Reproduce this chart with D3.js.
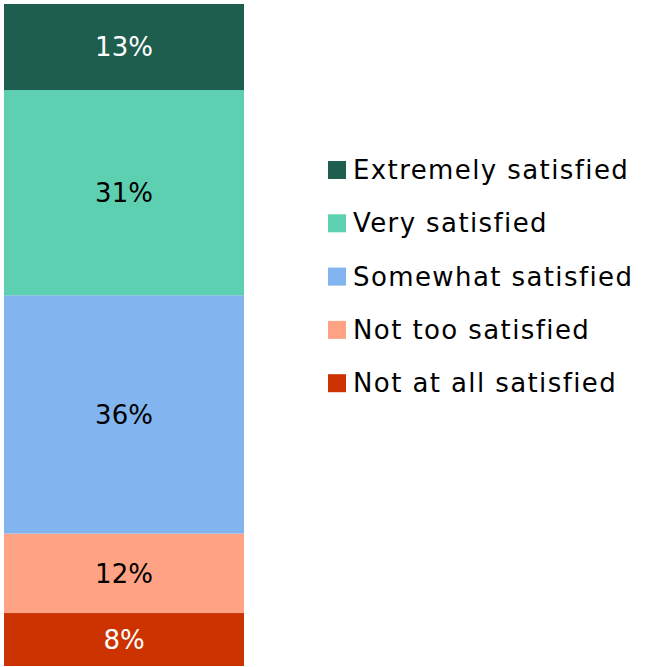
<!DOCTYPE html>
<html>
<head>
<meta charset="utf-8">
<script src="https://cdn.jsdelivr.net/npm/d3@7"></script>
<style>
  html, body { margin: 0; padding: 0; background: #ffffff; }
  svg { display: block; }
  text { font-family: "Century Gothic", "DejaVu Sans", sans-serif; }
</style>
</head>
<body>
<svg id="chart" width="654" height="667"></svg>
<script>
// Satisfaction levels, stacked from bottom to top
const categories = ["Not at all satisfied", "Not too satisfied", "Somewhat satisfied", "Very satisfied", "Extremely satisfied"];
const values = [8, 12, 36, 31, 13];
const colors = ["#cc3300", "#ffa384", "#82b5ef", "#5dd0b1", "#1e5e4e"];
const labelColors = ["#ffffff", "#000000", "#000000", "#000000", "#ffffff"];
const legendOrder = ["Extremely satisfied", "Very satisfied", "Somewhat satisfied", "Not too satisfied", "Not at all satisfied"];

const svg = d3.select("#chart");
const barLeft = 4, barRight = 244, barTop = 4, barBottom = 666;

const total = d3.sum(values);
const y = d3.scaleLinear().domain([0, total]).range([barBottom, barTop]);
const x = d3.scaleBand().domain(["all"]).range([barLeft, barRight]).padding(0);

let acc = 0;
const segs = categories.map((c, i) => {
  const s = { cat: c, v: values[i], y0: acc, y1: acc + values[i], color: colors[i], lc: labelColors[i] };
  acc += values[i];
  return s;
});

const g = svg.append("g");
g.selectAll("rect.seg").data(segs).join("rect")
  .attr("class", "seg")
  .attr("x", x("all"))
  .attr("width", x.bandwidth())
  .attr("y", d => y(d.y1))
  .attr("height", d => y(d.y0) - y(d.y1))
  .attr("fill", d => d.color);

g.selectAll("text.val").data(segs).join("text")
  .attr("class", "val")
  .attr("x", x("all") + x.bandwidth() / 2)
  .attr("y", d => (y(d.y0) + y(d.y1)) / 2)
  .attr("dy", "0.36em")
  .attr("text-anchor", "middle")
  .attr("font-size", 26)
  .attr("fill", d => d.lc)
  .text(d => d.v + "%");

// Legend
const colorOf = d3.scaleOrdinal().domain(categories).range(colors);
const legend = svg.append("g").attr("transform", "translate(328,161)");
const item = legend.selectAll("g").data(legendOrder).join("g")
  .attr("transform", (d, i) => `translate(0,${i * 53.3})`);
item.append("rect").attr("width", 18).attr("height", 18).attr("fill", d => colorOf(d));
item.append("text")
  .attr("x", 25).attr("y", 18)
  .attr("font-size", 26)
  .attr("letter-spacing", 1.4)
  .attr("fill", "#000")
  .text(d => d);
</script>
</body>
</html>
